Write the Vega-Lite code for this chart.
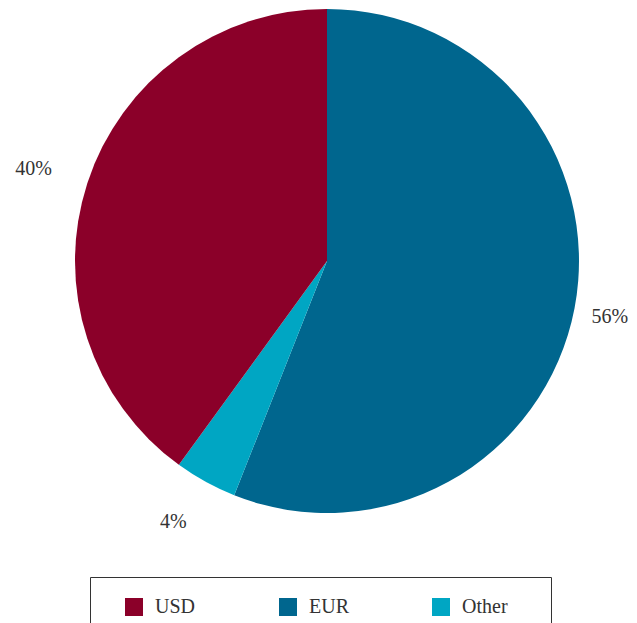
{
  "$schema": "https://vega.github.io/schema/vega-lite/v6.json",
  "autosize": {"type": "none"},
  "padding": {"left": 17, "top": 0, "right": 0, "bottom": 101},
  "width": 620,
  "height": 522,
  "background": "white",
  "data": {
    "values": [
      {"currency": "EUR", "share": 56, "ord": 1, "label": "56%"},
      {"currency": "Other", "share": 4, "ord": 2, "label": "4%"},
      {"currency": "USD", "share": 40, "ord": 3, "label": "40%"}
    ]
  },
  "encoding": {
    "theta": {"field": "share", "type": "quantitative", "stack": true},
    "order": {"field": "ord", "type": "quantitative"}
  },
  "layer": [
    {
      "mark": {"type": "arc", "outerRadius": 252},
      "encoding": {
        "color": {
          "field": "currency",
          "type": "nominal",
          "scale": {"domain": ["USD", "EUR", "Other"], "range": ["#8b0029", "#00668e", "#00a6c3"]},
          "legend": {
            "title": null,
            "orient": "none",
            "legendX": 73,
            "legendY": 577,
            "direction": "horizontal",
            "columns": 3,
            "gridAlign": "each",
            "columnPadding": 68,
            "padding": 20,
            "strokeColor": "#333333",
            "fillColor": "white",
            "symbolType": "square",
            "symbolSize": 324,
            "symbolStrokeWidth": 0,
            "symbolOpacity": 1,
            "symbolOffset": 14,
            "labelOffset": 11,
            "labelFont": "Liberation Serif, Times New Roman, serif",
            "labelFontSize": 20,
            "labelColor": "#333333",
            "labelExpr": "datum.label == 'Other' ? 'Other\u2003\u2006\u200b' : datum.label"
          }
        }
      }
    },
    {
      "mark": {"type": "text", "radius": 298, "dx": -10, "font": "Liberation Serif, Times New Roman, serif", "fontSize": 20, "color": "#333333", "align": "center", "baseline": "middle"},
      "encoding": {
        "text": {"field": "label", "type": "nominal"},
        "detail": {"field": "currency", "type": "nominal"}
      }
    }
  ]
}
